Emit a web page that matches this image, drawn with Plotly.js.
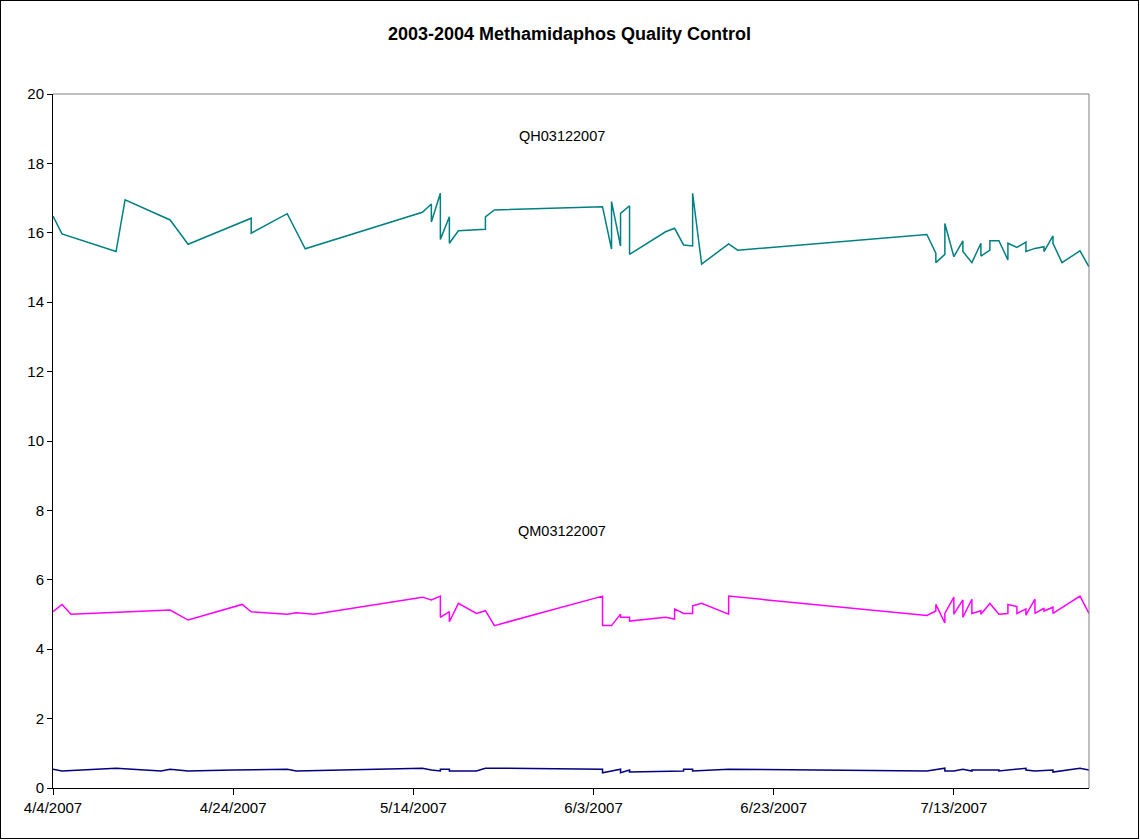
<!DOCTYPE html>
<html><head><meta charset="utf-8">
<script src="https://cdn.plot.ly/plotly-3.0.1.min.js"></script>
<style>
html,body{margin:0;padding:0;background:#fff;}
#chart{width:1139px;height:839px;box-sizing:border-box;border:1px solid #000;}
</style></head>
<body><div id="chart"></div>
<script>
const qhDates = ["2007-04-04","2007-04-05","2007-04-11","2007-04-12","2007-04-17","2007-04-19","2007-04-26","2007-04-26","2007-04-30","2007-05-02",
"2007-05-15","2007-05-16","2007-05-16","2007-05-17","2007-05-17","2007-05-18","2007-05-18","2007-05-19","2007-05-22","2007-05-22","2007-05-23",
"2007-06-04","2007-06-05","2007-06-05","2007-06-06","2007-06-06","2007-06-07","2007-06-07","2007-06-11","2007-06-12","2007-06-13","2007-06-14","2007-06-14","2007-06-15","2007-06-18","2007-06-19",
"2007-07-10","2007-07-11","2007-07-11","2007-07-12","2007-07-12","2007-07-13","2007-07-14","2007-07-14","2007-07-15","2007-07-16","2007-07-16","2007-07-17","2007-07-17","2007-07-18",
"2007-07-19","2007-07-19","2007-07-20","2007-07-21","2007-07-21","2007-07-22","2007-07-23","2007-07-23","2007-07-24","2007-07-24","2007-07-25","2007-07-27","2007-07-28"];
const qhValues = [16.48,15.97,15.46,16.95,16.37,15.67,16.42,15.99,16.55,15.54,
16.59,16.83,16.31,17.14,15.81,16.46,15.70,16.06,16.10,16.46,16.66,
16.75,15.53,16.90,15.62,16.56,16.78,15.38,16.03,16.13,15.65,15.62,17.14,15.10,15.68,15.50,
15.95,15.41,15.14,15.38,16.27,15.31,15.77,15.46,15.14,15.70,15.33,15.50,15.77,15.77,
15.22,15.70,15.58,15.73,15.46,15.55,15.60,15.46,15.91,15.70,15.14,15.48,15.02];

const qmDates = ["2007-04-04","2007-04-05","2007-04-06","2007-04-17","2007-04-19","2007-04-25","2007-04-26","2007-04-30","2007-05-01","2007-05-03",
"2007-05-15","2007-05-16","2007-05-17","2007-05-17","2007-05-18","2007-05-18","2007-05-19","2007-05-21","2007-05-22","2007-05-23",
"2007-06-04","2007-06-04","2007-06-05","2007-06-06","2007-06-06","2007-06-07","2007-06-07","2007-06-11","2007-06-12","2007-06-12","2007-06-13","2007-06-14","2007-06-14","2007-06-15","2007-06-18","2007-06-18",
"2007-07-10","2007-07-11","2007-07-11","2007-07-12","2007-07-12","2007-07-13","2007-07-13","2007-07-14","2007-07-14","2007-07-15","2007-07-15","2007-07-16","2007-07-16","2007-07-17","2007-07-18",
"2007-07-19","2007-07-19","2007-07-20","2007-07-20","2007-07-21","2007-07-21","2007-07-22","2007-07-22","2007-07-23","2007-07-23","2007-07-24","2007-07-24","2007-07-27","2007-07-28"];
const qmValues = [5.08,5.29,5.01,5.13,4.84,5.29,5.08,5.01,5.05,5.01,
5.50,5.42,5.53,4.92,5.08,4.79,5.32,5.03,5.11,4.68,
5.53,4.68,4.68,5.01,4.92,4.92,4.81,4.92,4.87,5.16,5.03,5.03,5.25,5.32,5.01,5.53,
4.97,5.10,5.29,4.76,5.03,5.50,5.01,5.42,4.92,5.44,5.03,5.11,5.01,5.32,5.01,
5.03,5.29,5.23,5.03,5.16,4.98,5.44,5.03,5.18,5.10,5.21,5.03,5.53,5.03];

const qlDates = ["2007-04-04","2007-04-05","2007-04-11","2007-04-16","2007-04-17","2007-04-19","2007-04-24","2007-04-30","2007-05-01",
"2007-05-15","2007-05-16","2007-05-17","2007-05-17","2007-05-18","2007-05-18","2007-05-21","2007-05-22","2007-05-23",
"2007-06-04","2007-06-04","2007-06-05","2007-06-06","2007-06-06","2007-06-07","2007-06-07","2007-06-13","2007-06-13","2007-06-14","2007-06-14","2007-06-18",
"2007-07-10","2007-07-11","2007-07-12","2007-07-12","2007-07-13","2007-07-14","2007-07-15","2007-07-15","2007-07-18","2007-07-18","2007-07-21","2007-07-21","2007-07-22","2007-07-24","2007-07-24","2007-07-27","2007-07-28"];
const qlValues = [0.54,0.49,0.57,0.49,0.54,0.49,0.52,0.54,0.49,
0.57,0.52,0.49,0.54,0.54,0.49,0.49,0.57,0.57,
0.54,0.44,0.49,0.54,0.44,0.52,0.46,0.49,0.54,0.54,0.49,0.54,
0.49,0.54,0.57,0.49,0.49,0.54,0.49,0.52,0.52,0.49,0.57,0.52,0.49,0.52,0.46,0.57,0.52];

const chartTitle = "2003-2004 Methamidaphos Quality Control";
const labelHigh = "QH03122007";
const labelMid = "QM03122007";
const yTicks = [0,2,4,6,8,10,12,14,16,18,20];

const fam = "Liberation Sans, Arial, sans-serif";
const tickFont = {family: fam, size: 15, color: "#000"};
const noteFont = {family: fam, size: 14.5, color: "#000"};

const traces = [
  {x: qhDates, y: qhValues, type: "scatter", mode: "lines", line: {color: "#008080", width: 1.5}, name: "QH"},
  {x: qmDates, y: qmValues, type: "scatter", mode: "lines", line: {color: "#FF00FF", width: 1.5}, name: "QM"},
  {x: qlDates, y: qlValues, type: "scatter", mode: "lines", line: {color: "#000080", width: 1.5}, name: "QL"}
];

const layout = {
  width: 1137, height: 837,
  margin: {l: 52, r: 49, t: 93, b: 50},
  paper_bgcolor: "#fff", plot_bgcolor: "#fff",
  showlegend: false,
  font: tickFont,
  title: {text: "<b>" + chartTitle + "</b>", x: 0.5, xanchor: "center", y: 0.961, yanchor: "middle",
          font: {family: fam, size: 18, color: "#000"}},
  xaxis: {
    type: "date", range: ["2007-04-04", "2007-07-28"],
    tick0: "2007-04-04", dtick: 20 * 86400000, tickformat: "%-m/%-d/%Y",
    showgrid: false, zeroline: false, showline: true, linecolor: "#000", linewidth: 1,
    ticks: "outside", ticklen: 6, tickcolor: "#000", tickfont: tickFont
  },
  yaxis: {
    range: [0, 20], tickvals: yTicks, ticktext: yTicks.map(String),
    showgrid: false, zeroline: false, showline: true, linecolor: "#000", linewidth: 1,
    ticks: "outside", ticklen: 5, tickcolor: "#000", tickfont: tickFont
  },
  shapes: [
    {type: "line", xref: "paper", yref: "paper", x0: 0, x1: 1, y0: 1, y1: 1, line: {color: "#808080", width: 1}},
    {type: "line", xref: "paper", yref: "paper", x0: 1, x1: 1, y0: 0, y1: 1, line: {color: "#808080", width: 1}}
  ],
  annotations: [
    {x: "2007-05-30 12:00", y: 18.78, text: labelHigh, showarrow: false, font: noteFont},
    {x: "2007-05-30 12:00", y: 7.4, text: labelMid, showarrow: false, font: noteFont}
  ]
};

Plotly.newPlot("chart", traces, layout, {displayModeBar: false, staticPlot: true});
</script></body></html>
